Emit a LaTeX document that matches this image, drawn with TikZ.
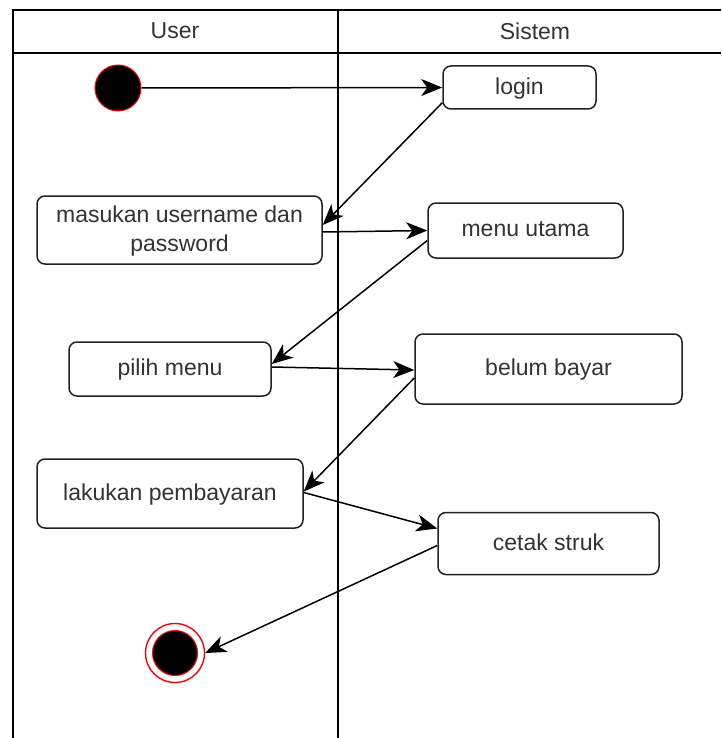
\documentclass[tikz,border=0pt]{standalone}
\usepackage{fontspec}
\setmainfont{Liberation Sans}
\usetikzlibrary{arrows.meta}
\definecolor{txt}{HTML}{333333}
\definecolor{edge}{HTML}{222222}
\tikzset{
  act/.style={draw=edge, line width=1.5pt, rounded corners=8pt, fill=white,
    text=txt, font=\fontsize{23}{29}\selectfont, align=center, inner sep=0pt,
    text depth=3pt},
  flow/.style={draw=black, line width=1.5pt,
    -{Stealth[length=21pt, width=17pt, inset=6pt]}},
  lane/.style={draw=black, line width=1.6pt},
  lanetitle/.style={text=txt, font=\fontsize{23}{29}\selectfont}
}
\begin{document}
\begin{tikzpicture}[x=1pt, y=-1pt]
  \useasboundingbox (0,0) rectangle (721,738);
  % swimlanes
  \draw[lane] (13,738) -- (13,10) -- (721,10);
  \draw[lane] (13,53) -- (721,53);
  \draw[lane] (338,10) -- (338,738);
  \node[lanetitle] (laneU) at (175,31) {User};
  \node[lanetitle] (laneS) at (535,31) {Sistem};

  % initial and final states
  \node[circle, fill=black, draw=red, line width=1pt, minimum size=46pt, inner sep=0pt] (start) at (118,88) {};
  \node[circle, fill=white, draw=red, line width=1.4pt, minimum size=59pt, inner sep=0pt] (stop) at (175,653) {};
  \node[circle, fill=black, draw=red, line width=1pt, minimum size=45pt, inner sep=0pt] (stopin) at (175,653) {};

  % activities
  \node[act, minimum width=153pt, minimum height=43pt] (login) at (519.5,87.5) {login};
  \node[act, minimum width=285pt, minimum height=68pt] (masuk) at (179.5,230) {masukan username dan\\password};
  \node[act, minimum width=195pt, minimum height=55pt] (menu) at (525.5,230.5) {menu utama};
  \node[act, minimum width=202pt, minimum height=54pt] (pilih) at (170,369) {pilih menu};
  \node[act, minimum width=267pt, minimum height=70pt] (belum) at (548.5,369) {belum bayar};
  \node[act, minimum width=266pt, minimum height=69pt] (bayar) at (170,493.5) {lakukan pembayaran};
  \node[act, minimum width=221pt, minimum height=62pt] (cetak) at (548.5,543.5) {cetak struk};

  % control flow
  \draw[flow] (start.east) -- (login.west);
  \draw[flow] ([yshift=7pt]login.south west) -- ([yshift=5pt]masuk.east);
  \draw[flow] ([yshift=-2pt]masuk.east) -- (menu.west);
  \draw[flow] ([yshift=-10pt]menu.west) -- ([yshift=5pt]pilih.east);
  \draw[flow] ([yshift=2pt]pilih.east) -- ([yshift=-1pt]belum.west);
  \draw[flow] ([yshift=-9pt]belum.west) -- ([yshift=2pt]bayar.east);
  \draw[flow] ([yshift=1pt]bayar.east) -- ([yshift=15pt]cetak.west);
  \draw[flow] ([yshift=-2pt]cetak.west) -- (stop.east);
\end{tikzpicture}
\end{document}
